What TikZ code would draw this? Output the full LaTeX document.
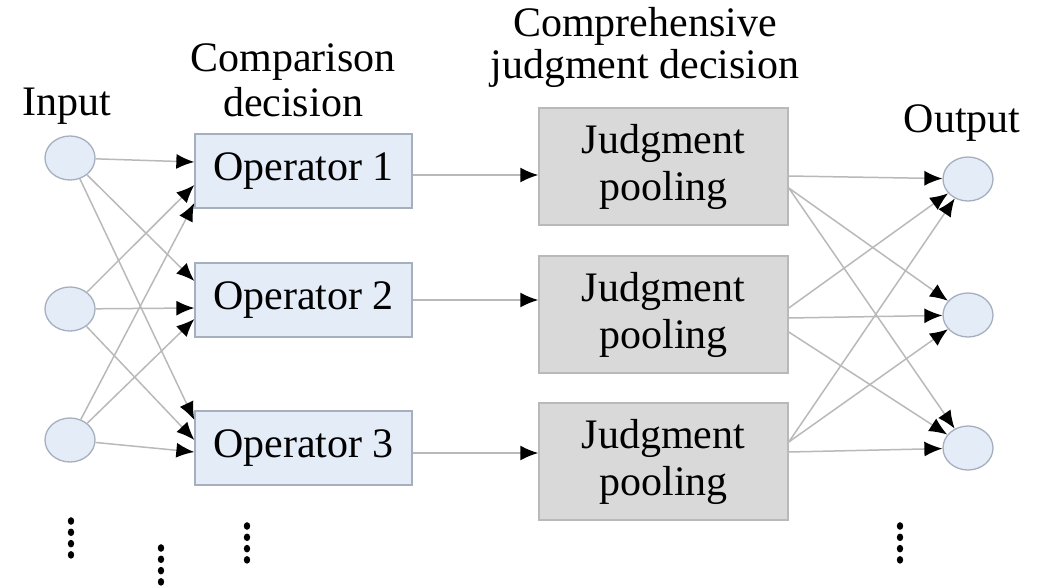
\documentclass[tikz,border=0pt]{standalone}
\usepackage{fontspec}
\setmainfont{Liberation Serif}
\usetikzlibrary{positioning,arrows.meta,shapes.geometric}
\definecolor{nodeblue}{RGB}{228,236,248}
\definecolor{nodeedge}{RGB}{165,175,190}
\definecolor{poolgray}{RGB}{217,217,217}
\definecolor{pooledge}{RGB}{185,185,185}
\definecolor{linkgray}{RGB}{185,185,185}
\tikzset{
  link/.style={-{Latex[length=18pt, width=15pt, color=black]}, line width=1.5pt, draw=linkgray},
  unitnode/.style={draw=nodeedge, fill=nodeblue, ellipse, line width=1.3pt, minimum width=50pt, minimum height=44pt, inner sep=0pt},
  opnode/.style={draw=nodeedge, fill=nodeblue, line width=1.3pt, minimum width=217pt, minimum height=74pt, inner sep=0pt},
  poolnode/.style={draw=pooledge, fill=poolgray, line width=1.5pt, minimum width=249pt, minimum height=117pt, inner sep=0pt, align=center, font=\fontsize{42}{47}\selectfont},
  headlabel/.style={align=center, inner sep=0pt, anchor=north}
}

\begin{document}
\begin{tikzpicture}[x=1pt, y=-1pt, every node/.style={font=\fontsize{42}{45}\selectfont}]
  \useasboundingbox (0,0) rectangle (1046,587);
  % input and output units
  \node[unitnode] (in1) at (70,158) {};
  \node[unitnode] (in2) at (70,309) {};
  \node[unitnode] (in3) at (70,440) {};
  \node[unitnode] (out1) at (968,179) {};
  \node[unitnode] (out2) at (968,315) {};
  \node[unitnode] (out3) at (968,448) {};
  % operators
  \node[opnode] (op1) at (303.5,171) {Operator 1};
  \node[opnode] (op2) at (303.5,300) {Operator 2};
  \node[opnode] (op3) at (303.5,448) {Operator 3};
  % pooling
  \node[poolnode] (jp1) at (663.5,166.5) {Judgment\\pooling};
  \node[poolnode] (jp2) at (663.5,314.5) {Judgment\\pooling};
  \node[poolnode] (jp3) at (663.5,461.5) {Judgment\\pooling};
  % headings
  \node[headlabel] (hdin) at (67,88) {Input};
  \node[headlabel] (hdcmp) at (293,43) {Comparison\\decision};
  \node[headlabel, font=\fontsize{42}{42}\selectfont] (hdcomp) at (645,7) {Comprehensive\\judgment decision};
  \node[headlabel] (hdout) at (962,104) {Output};

  \foreach \i/\j/\dy in {1/1/9, 2/1/-14, 3/1/-32, 1/2/19, 2/2/-8, 3/2/-19, 1/3/28, 2/3/8, 3/3/-4}
    \draw[link] (in\i) -- ([yshift=\dy pt]op\j.west);
  \foreach \i/\dy in {1/-4, 2/0, 3/-5}
    \draw[link] ([yshift=\dy pt]op\i.east) -- ([yshift=\dy pt]op\i.east -| jp\i.west);
  \foreach \i/\dy/\k in {1/-9.5/1, 1/-21.5/2, 1/-21.5/3, 2/6.5/1, 2/-3.5/2, 2/-17.5/3, 3/19.5/1, 3/19.5/2, 3/9.5/3}
    \draw[link] ([yshift=\dy pt]jp\i.east) -- (out\k);

  % dots
  \foreach \x/\y in {71/521, 161/548, 247/526, 900/526}
    \foreach \k in {0,...,3}
      \fill (\x,{\y+11.3*\k}) ellipse (3.2pt and 3.8pt);
\end{tikzpicture}
\end{document}
